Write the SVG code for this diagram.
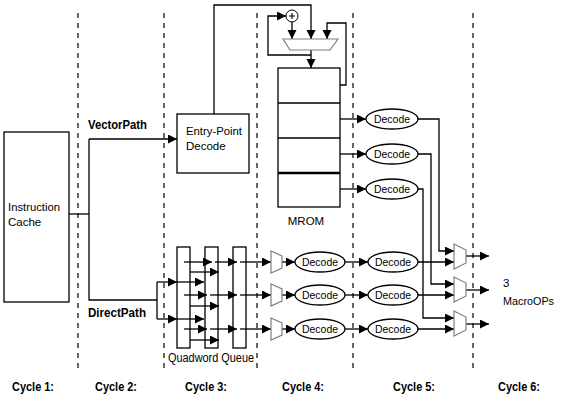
<svg xmlns="http://www.w3.org/2000/svg" width="561" height="400" viewBox="0 0 561 400">
<style>
.ln{fill:none;stroke:#000;stroke-width:1.3}
.ar{fill:none;stroke:#000;stroke-width:1.3;marker-end:url(#ah)}
.box{fill:#fff;stroke:#000;stroke-width:1.3}
.mux{fill:#fff;stroke:#808080;stroke-width:1.2}
.dash{fill:none;stroke:#000;stroke-width:1.2;stroke-dasharray:5 5}
.t{font-family:"Liberation Sans",Arial,sans-serif;font-size:11.5px;fill:#000}
.tc{font-family:"Liberation Sans",Arial,sans-serif;font-size:11.5px;fill:#000;text-anchor:middle}
.b{font-family:"Liberation Sans",Arial,sans-serif;font-size:12px;font-weight:bold;fill:#000}
</style>
<defs>
<marker id="ah" markerUnits="userSpaceOnUse" markerWidth="10" markerHeight="10" refX="9" refY="4.5" orient="auto" viewBox="0 0 10 10">
<path d="M0,0 L9,4.5 L0,9 z" fill="#000"/>
</marker>
</defs>
<rect width="561" height="400" fill="#fff"/>

<g id="cycle-dividers">
<line class="dash" x1="78" y1="13" x2="78" y2="372"/>
<line class="dash" x1="164" y1="13" x2="164" y2="372"/>
<line class="dash" x1="257" y1="13" x2="257" y2="372"/>
<line class="dash" x1="353" y1="13" x2="353" y2="372"/>
<line class="dash" x1="473" y1="13" x2="473" y2="372"/>
</g>

<g id="connectors">
<polyline class="ln" points="69,214 89,214"/>
<polyline class="ln" points="89,139 89,300 157,300"/>
<polyline class="ar" points="89,139 177,139"/>
<polyline class="ln" points="157,282 157,319"/>
<polyline class="ar" points="214,114 214,5 311,5 311,39"/>
<polyline class="ar" points="292,22 292,39"/>
<polyline class="ar" points="340,85 346,85 346,23 327,23 327,39"/>
<polyline class="ar" points="311,50 311,68"/>
<polyline class="ar" points="311,55 268,55 268,16 286,16"/>
<polyline class="ar" points="340,119 366,119"/>
<polyline class="ar" points="340,154 366,154"/>
<polyline class="ar" points="340,189 366,189"/>
<polyline class="ar" points="418,119 439,119 439,251 454,251"/>
<polyline class="ar" points="418,154 431,154 431,284 454,284"/>
<polyline class="ar" points="418,189 423,189 423,318 454,318"/>
<polyline class="ar" points="157,282 177,282"/>
<polyline class="ar" points="177,282 204,282"/>
<polyline class="ar" points="157,319 177,319"/>
<polyline class="ar" points="177,319 204,319"/>
<polyline class="ar" points="184,262 212,262"/>
<polyline class="ar" points="215,262 237,262"/>
<polyline class="ar" points="240,262 271,262"/>
<polyline class="ar" points="190,272 219,272"/>
<polyline class="ar" points="184,295 207,295"/>
<polyline class="ar" points="210,295 237,295"/>
<polyline class="ar" points="240,295 271,295"/>
<polyline class="ar" points="190,306 219,306"/>
<polyline class="ar" points="184,329 207,329"/>
<polyline class="ar" points="210,329 237,329"/>
<polyline class="ar" points="240,329 271,329"/>
<polyline class="ar" points="190,340 219,340"/>
<polyline class="ar" points="282,262 295,262"/>
<polyline class="ar" points="282,295 295,295"/>
<polyline class="ar" points="282,329 295,329"/>
<polyline class="ar" points="345,262 368,262"/>
<polyline class="ar" points="345,295 368,295"/>
<polyline class="ar" points="345,329 368,329"/>
<polyline class="ar" points="417,262 454,262"/>
<polyline class="ar" points="417,295 454,295"/>
<polyline class="ar" points="417,329 454,329"/>
<polyline class="ar" points="466,256 489,256"/>
<polyline class="ar" points="466,290 489,290"/>
<polyline class="ar" points="466,324 489,324"/>
</g>

<g id="instruction-cache">
<rect class="box" x="4" y="132" width="65" height="170"/>
<text class="t" x="8" y="211" textLength="52" lengthAdjust="spacingAndGlyphs">Instruction</text>
<text class="t" x="8" y="226">Cache</text>
</g>

<g id="path-labels">
<text class="b" x="88" y="129" textLength="59" lengthAdjust="spacingAndGlyphs">VectorPath</text>
<text class="b" x="88" y="317" textLength="58" lengthAdjust="spacingAndGlyphs">DirectPath</text>
</g>

<g id="entry-point-decode">
<rect class="box" x="177" y="114" width="72" height="59"/>
<text class="t" x="186" y="135" textLength="56" lengthAdjust="spacingAndGlyphs">Entry-Point</text>
<text class="t" x="186" y="150">Decode</text>
</g>

<g id="adder">
<circle cx="292" cy="16" r="6" fill="#fff" stroke="#000" stroke-width="1"/>
<path d="M289,16 H295 M292,13 V19" stroke="#000" stroke-width="1.1"/>
</g>

<g id="mrom-mux">
<polygon class="mux" points="283,39 338,39 330,50 290,50"/>
</g>

<g id="mrom">
<rect class="box" x="278" y="68" width="62" height="139"/>
<line class="ln" x1="278" y1="103" x2="340" y2="103"/>
<line class="ln" x1="278" y1="138" x2="340" y2="138"/>
<line x1="278" y1="173" x2="340" y2="173" stroke="#000" stroke-width="2.5"/>
<text class="tc" x="306" y="225">MROM</text>
</g>

<g id="mrom-decode-1"><ellipse class="box" cx="392" cy="119" rx="26" ry="10"/><text class="tc" x="392" y="123" textLength="36" lengthAdjust="spacingAndGlyphs">Decode</text></g>
<g id="mrom-decode-2"><ellipse class="box" cx="392" cy="154" rx="26" ry="10"/><text class="tc" x="392" y="158" textLength="36" lengthAdjust="spacingAndGlyphs">Decode</text></g>
<g id="mrom-decode-3"><ellipse class="box" cx="392" cy="189" rx="26" ry="10"/><text class="tc" x="392" y="193" textLength="36" lengthAdjust="spacingAndGlyphs">Decode</text></g>

<g id="quadword-queue">
<rect class="ln" x="177" y="247" width="13" height="101"/>
<rect class="ln" x="205" y="247" width="13" height="101"/>
<rect class="ln" x="233" y="247" width="13" height="101"/>
<text class="tc" x="211" y="362" style="font-size:12px" textLength="86" lengthAdjust="spacingAndGlyphs">Quadword Queue</text>
</g>

<g id="pick-mux-1"><polygon class="mux" points="271,251 282,256 282,268 271,273"/></g>
<g id="pick-mux-2"><polygon class="mux" points="271,284 282,289 282,301 271,306"/></g>
<g id="pick-mux-3"><polygon class="mux" points="271,318 282,323 282,335 271,340"/></g>

<g id="decode-4-1"><ellipse class="box" cx="320" cy="262" rx="25" ry="10"/><text class="tc" x="320" y="266" textLength="36" lengthAdjust="spacingAndGlyphs">Decode</text></g>
<g id="decode-4-2"><ellipse class="box" cx="320" cy="295" rx="25" ry="10"/><text class="tc" x="320" y="299" textLength="36" lengthAdjust="spacingAndGlyphs">Decode</text></g>
<g id="decode-4-3"><ellipse class="box" cx="320" cy="329" rx="25" ry="10"/><text class="tc" x="320" y="333" textLength="36" lengthAdjust="spacingAndGlyphs">Decode</text></g>

<g id="decode-5-1"><ellipse class="box" cx="393" cy="262" rx="25" ry="10"/><text class="tc" x="393" y="266" textLength="36" lengthAdjust="spacingAndGlyphs">Decode</text></g>
<g id="decode-5-2"><ellipse class="box" cx="393" cy="295" rx="25" ry="10"/><text class="tc" x="393" y="299" textLength="36" lengthAdjust="spacingAndGlyphs">Decode</text></g>
<g id="decode-5-3"><ellipse class="box" cx="393" cy="329" rx="25" ry="10"/><text class="tc" x="393" y="333" textLength="36" lengthAdjust="spacingAndGlyphs">Decode</text></g>

<g id="out-mux-1"><polygon class="mux" points="454,244 466,250 466,263 454,269"/></g>
<g id="out-mux-2"><polygon class="mux" points="454,277 466,283 466,296 454,302"/></g>
<g id="out-mux-3"><polygon class="mux" points="454,311 466,317 466,330 454,336"/></g>

<g id="macroops">
<text class="t" x="503" y="287">3</text>
<text class="t" x="503" y="305" textLength="51" lengthAdjust="spacingAndGlyphs">MacroOPs</text>
</g>

<g id="cycle-labels">
<text class="b" x="12" y="391" textLength="42" lengthAdjust="spacingAndGlyphs">Cycle 1:</text>
<text class="b" x="95" y="391" textLength="42" lengthAdjust="spacingAndGlyphs">Cycle 2:</text>
<text class="b" x="185" y="391" textLength="42" lengthAdjust="spacingAndGlyphs">Cycle 3:</text>
<text class="b" x="282" y="391" textLength="42" lengthAdjust="spacingAndGlyphs">Cycle 4:</text>
<text class="b" x="393" y="391" textLength="42" lengthAdjust="spacingAndGlyphs">Cycle 5:</text>
<text class="b" x="498" y="391" textLength="42" lengthAdjust="spacingAndGlyphs">Cycle 6:</text>
</g>
</svg>
